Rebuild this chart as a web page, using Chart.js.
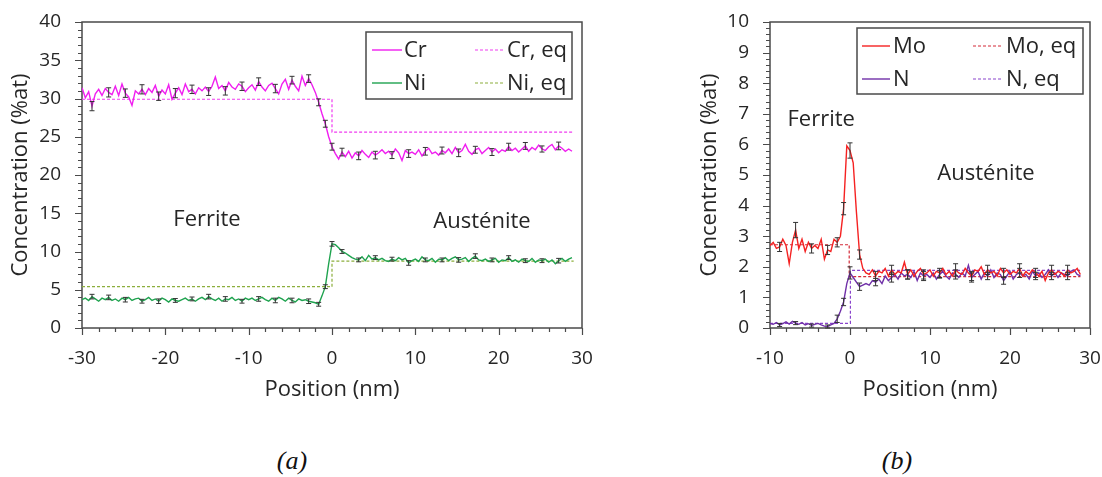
<!DOCTYPE html>
<html>
<head>
<meta charset="utf-8">
<script src="https://cdn.jsdelivr.net/npm/chart.js@4.4.1/dist/chart.umd.min.js"></script>
<style>
  body { margin: 0; background: #fff; width: 1102px; height: 477px; position: relative; overflow: hidden; }
  .panel { position: absolute; top: 0; height: 420px; }
  #wrapA { left: 0; width: 600px; }
  #wrapB { left: 690px; width: 412px; }
  .cap { position: absolute; top: 446px; font: italic 26px "Liberation Serif", serif; color: #111; transform: translateX(-50%); }
</style>
</head>
<body>
<div class="panel" id="wrapA"><canvas id="chartA"></canvas></div>
<div class="panel" id="wrapB"><canvas id="chartB"></canvas></div>
<div class="cap" style="left:292px">(a)</div>
<div class="cap" style="left:897px">(b)</div>
<script>
// ---- panel (a): Cr / Ni, sampled every 0.4 nm from -30 nm
const startA = -30, stepA = 0.4;
const crVals = [
  31.4, 30.1, 30.9, 29.0, 30.6, 31.2, 30.4, 31.3, 30.8, 30.5,
  31.6, 30.4, 31.9, 30.7, 30.2, 29.1, 31.0, 30.6, 31.2, 30.5,
  31.3, 30.8, 31.7, 30.3, 31.1, 30.6, 31.8, 29.9, 30.7, 31.4,
  30.5, 31.9, 30.9, 31.2, 30.6, 31.4, 31.0, 31.5, 30.9, 31.6,
  32.8, 31.3, 31.7, 31.0, 32.1, 31.5, 31.2, 31.9, 31.6, 30.9,
  31.4, 31.8, 31.1, 32.2, 31.5, 31.0, 31.7, 32.0, 31.3, 30.6,
  31.9, 32.5, 31.2, 32.4, 31.6, 31.0, 32.9, 31.7, 32.6, 31.8,
  30.8, 29.5, 28.0, 26.7, 25.0, 23.7, 22.8, 22.1, 23.0, 22.4,
  23.1, 22.2, 22.9, 22.5, 23.2, 22.7, 22.3, 23.0, 22.6, 22.9,
  23.3, 22.8, 23.1, 22.6, 23.4, 22.9, 21.9, 23.2, 22.8, 23.0,
  22.7, 23.3, 22.5, 23.1, 23.5, 22.8, 23.0, 22.6, 23.2, 22.9,
  23.4, 22.8, 23.6, 22.9, 23.2, 24.0, 23.1, 22.7, 23.3, 23.5,
  22.8, 23.2, 23.6, 23.0, 23.4, 22.9, 23.3, 23.1, 23.7, 23.2,
  23.5, 23.0, 23.4, 23.8, 23.1, 23.6, 23.3, 23.9, 23.4, 23.2,
  23.7, 24.0, 23.3, 23.8, 23.5, 23.1, 23.4, 23.1
];
const niVals = [
  3.7, 3.9, 3.6, 4.1, 3.8, 3.5, 3.9, 3.7, 4.0, 3.6,
  3.8, 3.5, 3.9, 3.7, 4.0, 3.6, 3.8, 3.9, 3.5, 3.7,
  4.0, 3.6, 3.8, 3.5, 3.9, 3.7, 3.4, 3.8, 3.6, 3.5,
  3.7, 3.9, 3.6, 3.8, 3.5, 3.8, 4.0, 3.7, 4.1, 3.8,
  3.6, 3.9, 3.5, 3.8, 3.7, 4.0, 3.6, 3.8, 3.5, 3.9,
  3.7, 3.9, 3.6, 3.8, 4.0, 3.7, 3.5, 3.9, 3.6, 4.0,
  3.8, 3.5, 3.9, 3.6, 3.4, 3.8, 3.6, 3.7, 3.5, 3.4,
  3.3, 3.1, 4.2, 5.4, 8.4, 11.0, 10.9, 10.5, 10.0, 9.8,
  9.5, 9.2, 9.0, 8.9, 9.3, 8.8, 9.5, 9.0, 9.2, 8.9,
  9.1, 8.8, 8.7, 9.0, 8.8, 9.2, 8.9, 9.1, 8.5, 8.8,
  9.0, 8.7, 9.3, 8.9, 8.8, 9.1, 8.6, 9.0, 8.9, 9.2,
  8.8, 9.1, 9.3, 8.9, 9.0, 9.2, 8.7, 9.1, 9.4, 8.9,
  8.8, 9.0, 8.7, 8.9, 9.1, 8.6, 8.9, 8.8, 9.2, 8.7,
  8.9, 8.6, 9.0, 8.8, 8.7, 9.1, 8.6, 8.9, 8.8, 9.0,
  8.6, 8.9, 8.4, 8.8, 9.1, 8.7, 9.0, 9.2
];
// equilibrium steps: [ferrite, austenite] with x breakpoints [start, step, end]
const eqXA = [-30, 0, 29];
const crEq = [29.9, 25.6];
const niEq = [5.4, 8.75];
// error bars (x positions and half widths)
const errPosA = [-28.8, -26.8, -24.8, -22.8, -20.8, -18.8, -16.8, -14.8, -12.8, -10.8, -8.8, -6.8, -4.8, -2.8,
  -1.6, -0.8, 0, 1.2, 3.2, 5.2, 7.2, 9.2, 11.2, 13.2, 15.2, 17.2, 19.2, 21.2, 23.2, 25.2, 27.2];
const crErr = [0.6, 0.6, 0.55, 0.6, 0.55, 0.6, 0.55, 0.5, 0.55, 0.55, 0.5, 0.55, 0.5, 0.5,
  0.45, 0.45, 0.45, 0.5, 0.5, 0.5, 0.45, 0.5, 0.5, 0.45, 0.5, 0.45, 0.45, 0.45, 0.45, 0.4, 0.5];
const niErr = [0.3, 0.3, 0.3, 0.25, 0.3, 0.25, 0.25, 0.3, 0.3, 0.25, 0.3, 0.3, 0.3, 0.3,
  0.25, 0.25, 0.3, 0.25, 0.25, 0.25, 0.25, 0.3, 0.25, 0.25, 0.3, 0.3, 0.25, 0.25, 0.25, 0.25, 0.3];

// ---- panel (b): Mo / N, sampled every 0.4 nm from -10 nm
const startB = -10, stepB = 0.4;
const moVals = [
  2.7, 2.8, 2.6, 2.65, 2.9, 2.7, 2.1, 2.8, 3.2, 2.6,
  2.9, 2.5, 2.8, 2.6, 2.7, 2.6, 2.9, 2.25, 2.55, 2.5,
  2.9, 2.8, 3.0, 3.9, 5.95, 5.8, 5.4, 3.8, 2.4, 1.95,
  1.8, 1.75, 1.9, 1.7, 1.85, 1.8, 1.95, 1.7, 1.9, 1.75,
  1.85, 1.8, 2.15, 1.75, 1.9, 1.7, 1.85, 1.95, 1.75, 1.8,
  1.9, 1.7, 1.85, 1.8, 1.95, 1.75, 1.85, 1.7, 1.9, 1.8,
  1.75, 1.95, 1.8, 1.7, 1.9, 1.85, 2.0, 1.75, 1.9, 1.8,
  1.85, 1.7, 1.95, 1.8, 1.9, 1.75, 1.85, 1.8, 1.95, 1.7,
  1.85, 1.75, 1.9, 1.8, 1.7, 1.85, 1.55, 1.8, 1.9, 1.75,
  1.85, 1.8, 1.7, 1.9, 1.8, 1.85, 1.95, 1.75
];
const nVals = [
  0.15, 0.12, 0.18, 0.1, 0.14, 0.2, 0.13, 0.22, 0.16, 0.12,
  0.18, 0.1, 0.14, 0.08, 0.12, 0.15, 0.1, 0.06, 0.05, 0.1,
  0.15, 0.3, 0.55, 0.85, 1.45, 1.8, 1.65, 1.5, 1.35, 1.4,
  1.45, 1.4, 1.55, 1.5, 1.6, 1.45, 1.7, 1.55, 1.65, 1.75,
  1.6, 1.8, 1.7, 1.75, 1.65, 1.85, 1.55, 1.8, 1.7, 1.75,
  1.65, 1.8, 1.6, 1.75, 1.85, 1.7, 1.6, 1.8, 1.75, 1.65,
  1.8, 1.7, 2.05, 1.65, 1.75, 1.85, 1.6, 1.8, 1.7, 1.9,
  1.65, 1.8, 1.75, 1.55, 1.7, 1.85, 1.6, 1.75, 1.8, 1.7,
  1.75, 1.6, 1.85, 1.7, 1.8, 1.65, 1.75, 1.9, 1.7, 1.8,
  1.65, 1.8, 1.75, 1.7, 1.85, 1.9, 1.75, 1.7
];
const moEqX = [-10, -0.1, 28.8];
const nEqX = [-10, 0.05, 28.8];
const moEq = [2.72, 1.68];
const nEq = [0.15, 1.88];
const errPosB = [-8.8, -6.8, -4.8, -2.8, -1.6, -0.8, 0, 1.2, 3.2, 5.2, 7.2, 9.2, 11.2, 13.2, 15.2, 17.2, 19.2, 21.2, 23.2, 25.2, 27.2];
const moErr = [0.15, 0.25, 0.15, 0.15, 0.15, 0.2, 0.25, 0.15, 0.15, 0.15, 0.15, 0.15, 0.15, 0.2, 0.15, 0.15, 0.15, 0.15, 0.15, 0.15, 0.15];
const nErr = [0.05, 0.05, 0.05, 0.05, 0.12, 0.12, 0.2, 0.12, 0.12, 0.15, 0.15, 0.15, 0.12, 0.15, 0.15, 0.12, 0.12, 0.15, 0.12, 0.12, 0.12];

const FONT = '"Open Sans", "Noto Sans", sans-serif';
const TXT = '#262626';

function series(start, step, vals) {
  return vals.map((v, i) => ({ x: +(start + i * step).toFixed(2), y: v }));
}
// horizontal at the ferrite value, vertical jump at the interface, horizontal at the austenite value
function stepLine(xs, vals) {
  return [{ x: xs[0], y: vals[0] }, { x: xs[1], y: vals[0] }, { x: xs[1], y: vals[1] }, { x: xs[2], y: vals[1] }];
}

// frame, minor/major ticks, error bars, legend box and phase labels
const decor = {
  id: 'decor',
  beforeDatasetsDraw(chart, args, o) {
    const { ctx, chartArea: a, scales: { x, y } } = chart;
    ctx.save();
    ctx.strokeStyle = '#4a4a4a';
    ctx.lineWidth = 1.5;
    ctx.strokeRect(a.left, a.top, a.right - a.left, a.bottom - a.top);
    ctx.lineWidth = 1.2;
    ctx.beginPath();
    const nx = Math.round((x.max - x.min) / o.xMinor);
    for (let i = 0; i <= nx; i++) {
      const v = x.min + i * o.xMinor;
      const major = Math.abs(Math.round(v / o.xMajor) * o.xMajor - v) < 1e-6;
      const px = Math.round(x.getPixelForValue(v)) + 0.5;
      ctx.moveTo(px, a.bottom);
      ctx.lineTo(px, a.bottom + (major ? 7 : 4));
    }
    const ny = Math.round((y.max - y.min) / o.yMinor);
    for (let i = 0; i <= ny; i++) {
      const v = y.min + i * o.yMinor;
      const major = Math.abs(Math.round(v / o.yMajor) * o.yMajor - v) < 1e-6;
      const py = Math.round(y.getPixelForValue(v)) + 0.5;
      ctx.moveTo(a.left, py);
      ctx.lineTo(a.left - (major ? 7 : 4), py);
    }
    ctx.stroke();
    ctx.restore();
  },
  afterDatasetsDraw(chart, args, o) {
    const { ctx, chartArea: a, scales: { x, y } } = chart;
    ctx.save();
    // error bars
    ctx.strokeStyle = '#333';
    ctx.lineWidth = 1;
    o.errors.forEach(e => {
      const ds = chart.data.datasets[e.ds].data;
      e.pos.forEach((p, i) => {
        const pt = ds.find(d => Math.abs(d.x - p) < 1e-6);
        if (!pt) return;
        const px = x.getPixelForValue(p);
        const y1 = y.getPixelForValue(pt.y + e.err[i]);
        const y2 = y.getPixelForValue(pt.y - e.err[i]);
        ctx.beginPath();
        ctx.moveTo(px, y1); ctx.lineTo(px, y2);
        ctx.moveTo(px - 2.5, y1); ctx.lineTo(px + 2.5, y1);
        ctx.moveTo(px - 2.5, y2); ctx.lineTo(px + 2.5, y2);
        ctx.stroke();
      });
    });
    // phase labels
    ctx.fillStyle = TXT;
    ctx.font = '22px ' + FONT;
    ctx.textAlign = 'center';
    ctx.textBaseline = 'alphabetic';
    o.labels.forEach(l => ctx.fillText(l.text, x.getPixelForValue(l.x), y.getPixelForValue(l.y)));
    // legend
    const L = o.legend;
    const bx = a.left + L.box[0], by = a.top + L.box[1];
    ctx.fillStyle = '#fff';
    ctx.fillRect(bx, by, L.box[2], L.box[3]);
    ctx.strokeStyle = '#4a4a4a';
    ctx.lineWidth = 1.5;
    ctx.strokeRect(bx, by, L.box[2], L.box[3]);
    ctx.textAlign = 'left';
    ctx.textBaseline = 'middle';
    L.items.forEach(it => {
      const ds = chart.data.datasets[it.ds];
      const ly = a.top + L.rows[it.row];
      const col = L.cols[it.col];
      ctx.strokeStyle = ds.borderColor;
      ctx.lineWidth = ds.borderWidth;
      ctx.setLineDash(ds.borderDash || []);
      ctx.beginPath();
      ctx.moveTo(a.left + col[0], ly);
      ctx.lineTo(a.left + col[1], ly);
      ctx.stroke();
      ctx.setLineDash([]);
      ctx.fillStyle = TXT;
      ctx.fillText(ds.label, a.left + col[2], ly + 1);
    });
    ctx.restore();
  }
};

// fixed axis boxes, no automatic label padding (layout padding leaves the room)
function fixBox(size, key) {
  return s => {
    s[key] = size;
    s.paddingTop = 0; s.paddingBottom = 0; s.paddingLeft = 0; s.paddingRight = 0;
  };
}

function axes(xr, yr, yStep, yWidth, yTitlePad) {
  return {
    x: {
      type: 'linear', min: xr[0], max: xr[1],
      grid: { display: false, drawTicks: false },
      border: { display: false },
      ticks: { stepSize: 10, padding: 19, color: TXT, font: { family: FONT, size: 19 } },
      title: { display: true, text: 'Position (nm)', color: TXT, font: { family: FONT, size: 22 }, padding: { top: 0, bottom: 17 } },
      afterFit: fixBox(92, 'height')
    },
    y: {
      type: 'linear', min: yr[0], max: yr[1],
      grid: { display: false, drawTicks: false },
      border: { display: false },
      ticks: { stepSize: yStep, padding: 21, color: TXT, font: { family: FONT, size: 19 } },
      title: { display: true, text: 'Concentration (%at)', color: TXT, font: { family: FONT, size: 22 }, padding: { top: yTitlePad, bottom: 0 } },
      afterFit: fixBox(yWidth, 'width')
    }
  };
}

const line = (label, data, color, width, dash) => ({
  label, data, borderColor: color, backgroundColor: color, borderWidth: width,
  borderDash: dash, pointRadius: 0, tension: 0, fill: false
});

new Chart(document.getElementById('chartA'), {
  type: 'line',
  data: {
    datasets: [
      line('Cr', series(startA, stepA, crVals), '#f01ef0', 1.4),
      line('Ni', series(startA, stepA, niVals), '#1fa34f', 1.4),
      line('Cr, eq', stepLine(eqXA, crEq), '#f03cf0', 1.2, [3, 2]),
      line('Ni, eq', stepLine(eqXA, niEq), '#8cae3c', 1.2, [3, 2])
    ]
  },
  options: {
    responsive: true, maintainAspectRatio: false, animation: false,
    layout: { padding: { left: 0, top: 22, right: 18, bottom: 0 } },
    scales: axes([-30, 30], [0, 40], 5, 82, 8),
    plugins: {
      legend: { display: false }, tooltip: { enabled: false },
      decor: {
        xMinor: 2, xMajor: 10, yMinor: 1, yMajor: 5,
        errors: [{ ds: 0, pos: errPosA, err: crErr }, { ds: 1, pos: errPosA, err: niErr }],
        labels: [{ text: 'Ferrite', x: -15, y: 13.3 }, { text: 'Austénite', x: 18, y: 13.1 }],
        legend: {
          box: [284, 10, 206, 67], rows: [28, 61],
          cols: [[290, 320, 322], [393, 423, 425]],
          items: [{ ds: 0, row: 0, col: 0 }, { ds: 2, row: 0, col: 1 }, { ds: 1, row: 1, col: 0 }, { ds: 3, row: 1, col: 1 }]
        }
      }
    }
  },
  plugins: [decor]
});

new Chart(document.getElementById('chartB'), {
  type: 'line',
  data: {
    datasets: [
      line('Mo', series(startB, stepB, moVals), '#f52222', 1.4),
      line('N', series(startB, stepB, nVals), '#7030a8', 1.4),
      line('Mo, eq', stepLine(moEqX, moEq), '#d42a38', 1.2, [3, 2]),
      line('N, eq', stepLine(nEqX, nEq), '#8a44cc', 1.2, [3, 2])
    ]
  },
  options: {
    responsive: true, maintainAspectRatio: false, animation: false,
    layout: { padding: { left: 0, top: 22, right: 12, bottom: 0 } },
    scales: axes([-10, 30], [0, 10], 1, 80, 7),
    plugins: {
      legend: { display: false }, tooltip: { enabled: false },
      decor: {
        xMinor: 2, xMajor: 10, yMinor: 0.2, yMajor: 1,
        errors: [{ ds: 0, pos: errPosB, err: moErr }, { ds: 1, pos: errPosB, err: nErr }],
        labels: [{ text: 'Ferrite', x: -3.6, y: 6.6 }, { text: 'Austénite', x: 17, y: 4.84 }],
        legend: {
          box: [87, 6, 226, 66], rows: [24, 57],
          cols: [[92, 120, 123], [203, 233, 236]],
          items: [{ ds: 0, row: 0, col: 0 }, { ds: 2, row: 0, col: 1 }, { ds: 1, row: 1, col: 0 }, { ds: 3, row: 1, col: 1 }]
        }
      }
    }
  },
  plugins: [decor]
});
</script>
</body>
</html>
